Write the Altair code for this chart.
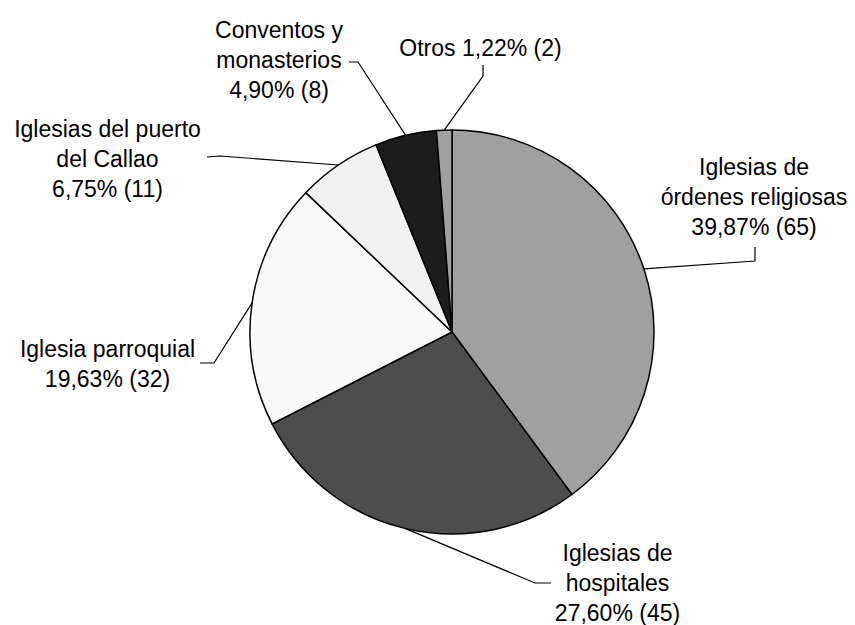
import math
import altair as alt
import pandas as pd

# ---- data ----
categories = [
    "Iglesias de órdenes religiosas",
    "Iglesias de hospitales",
    "Iglesia parroquial",
    "Iglesias del puerto del Callao",
    "Conventos y monasterios",
    "Otros",
]
counts = [65, 45, 32, 11, 8, 2]
percents = ["39,87", "27,60", "19,63", "6,75", "4,90", "1,22"]
label_names = [
    "Iglesias de\nórdenes religiosas",
    "Iglesias de\nhospitales",
    "Iglesia parroquial",
    "Iglesias del puerto\ndel Callao",
    "Conventos y\nmonasterios",
    "Otros",
]
one_line = [False, False, False, False, False, True]

# ---- styling / layout (pixels in the plot area) ----
colors = ["#a0a0a0", "#4d4d4d", "#fafafa", "#f2f2f2", "#1c1c1c", "#a0a0a0"]
W, H = 839, 617
CX, CY, R = 444, 324, 202
label_pos = [(746, 167), (609.5, 553), (99.5, 349), (99.5, 129), (271, 30), (472.5, 48)]
leader_end = [(747, 239), (543, 575), (192, 355), (199, 149), (341, 54), (475, 57)]
leader_elbow = [(747, 253), (527, 575), (206, 355), (212, 148), (350, 54), (475, 68)]

total = sum(counts)
pie_df = pd.DataFrame({"category": categories, "value": counts, "idx": list(range(len(counts)))})

labels = []
for i, name in enumerate(label_names):
    if one_line[i]:
        txt = f"{name} {percents[i]}% ({counts[i]})"
    else:
        txt = f"{name}\n{percents[i]}% ({counts[i]})"
    labels.append({"category": categories[i], "text": txt, "x": label_pos[i][0], "y": label_pos[i][1]})
text_df = pd.DataFrame(labels)

rows = []
cum = 0
for i, v in enumerate(counts):
    ang = 2 * math.pi * (cum + v / 2) / total
    cum += v
    px = CX + R * math.sin(ang)
    py = CY - R * math.cos(ang)
    pts = [leader_end[i], leader_elbow[i], (px, py)]
    for k, (x, y) in enumerate(pts):
        rows.append({"category": categories[i], "step": k, "x": x, "y": y})
line_df = pd.DataFrame(rows)

xs = alt.Scale(domain=[0, W], nice=False, zero=False)
ys = alt.Scale(domain=[H, 0], nice=False, zero=False)

pie = alt.Chart(pie_df).mark_arc(stroke="black", strokeWidth=1.5, radius=R).encode(
    theta=alt.Theta("value:Q", stack=True),
    order=alt.Order("idx:Q"),
    color=alt.Color("category:N", scale=alt.Scale(domain=categories, range=colors), legend=None),
    x=alt.value(CX),
    y=alt.value(CY),
)

leaders = alt.Chart(line_df).mark_line(color="black", strokeWidth=1.2).encode(
    x=alt.X("x:Q", scale=xs, axis=None),
    y=alt.Y("y:Q", scale=ys, axis=None),
    detail="category:N",
    order="step:Q",
)

texts = alt.Chart(text_df).mark_text(
    font="Liberation Sans", fontSize=23, lineBreak="\n", lineHeight=30,
    align="center", baseline="alphabetic", color="black",
).encode(
    x=alt.X("x:Q", scale=xs, axis=None),
    y=alt.Y("y:Q", scale=ys, axis=None),
    text="text:N",
)

chart = alt.layer(pie, leaders, texts).properties(
    width=W, height=H, padding=0, autosize=alt.AutoSizeParams(type="none"),
    background="white",
).configure_view(stroke=None)

chart.save("out.html", embed_options={"renderer": "svg", "actions": False})
